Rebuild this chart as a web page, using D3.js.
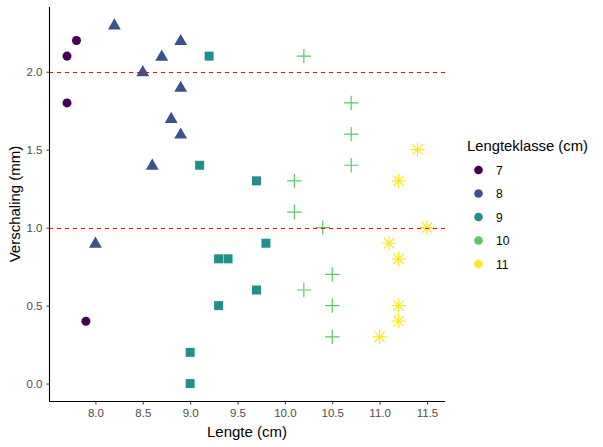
<!DOCTYPE html>
<html><head><meta charset="utf-8">
<script src="https://cdn.jsdelivr.net/npm/d3@7"></script>
<style>body{margin:0;background:#fff}svg{display:block}text{font-family:"Liberation Sans",Arial,sans-serif}</style>
</head><body><div id="chart"></div>
<script>
const classes = ["7","8","9","10","11"];
const classColors = ["#440154","#3B528B","#21908C","#5DC863","#FDE725"];
const class7 = [[7.7,2.1],[7.8,2.2],[7.7,1.8],[7.9,0.4]];
const class8 = [[8.2,2.3],[8.9,2.2],[8.7,2.1],[8.5,2.0],[8.9,1.9],[8.8,1.7],[8.9,1.6],[8.6,1.4],[8.0,0.9]];
const class9 = [[9.2,2.1],[9.1,1.4],[9.7,1.3],[9.3,0.8],[9.4,0.8],[9.8,0.9],[9.7,0.6],[9.3,0.5],[9.0,0.2],[9.0,0.0]];
const class10 = [[10.2,2.1],[10.7,1.8],[10.7,1.6],[10.7,1.4],[10.1,1.3],[10.1,1.1],[10.4,1.0],[10.5,0.7],[10.2,0.6],[10.5,0.5],[10.5,0.3]];
const class11 = [[11.4,1.5],[11.2,1.3],[11.5,1.0],[11.1,0.9],[11.2,0.8],[11.2,0.5],[11.2,0.4],[11.0,0.3]];
const hlines = [2.0, 1.0];
const xTicks = [8.0,8.5,9.0,9.5,10.0,10.5,11.0,11.5];
const yTicks = [0.0,0.5,1.0,1.5,2.0];

const W=603,H=447;
const svg=d3.select("#chart").append("svg").attr("width",W).attr("height",H);
const x=d3.scaleLinear().domain([7.51,11.69]).range([49,445]);
const y=d3.scaleLinear().domain([-0.115,2.415]).range([401.5,7]);

const groups=[class7,class8,class9,class10,class11];
const shapes=["circle","triangle","square","plus","asterisk"];

function drawGroup(data,shape,color){
  const g=svg.append("g");
  if(shape==="circle"||shape==="triangle"||shape==="square"){
    const t={circle:d3.symbolCircle,triangle:d3.symbolTriangle,square:d3.symbolSquare}[shape];
    const sz={circle:64,triangle:72,square:81}[shape];
    g.selectAll("path").data(data).join("path")
      .attr("transform",d=>`translate(${x(d[0])},${y(d[1])+(shape==="triangle"?0.8:0)})`)
      .attr("d",d3.symbol().type(t).size(sz)).attr("fill",color);
  } else {
    const r=7.2;
    const p=d3.path();
    if(shape==="plus"){
      p.moveTo(-r,0);p.lineTo(r,0);p.moveTo(0,-r);p.lineTo(0,r);
    } else {
      const s=r*0.72;
      p.moveTo(-r,0);p.lineTo(r,0);p.moveTo(0,-r);p.lineTo(0,r);
      p.moveTo(-s,-s);p.lineTo(s,s);p.moveTo(-s,s);p.lineTo(s,-s);
    }
    g.selectAll("path").data(data).join("path")
      .attr("transform",d=>`translate(${x(d[0])},${y(d[1])})`)
      .attr("d",p.toString()).attr("stroke",color).attr("stroke-width",1.2).attr("fill","none");
  }
}
groups.forEach((d,i)=>drawGroup(d,shapes[i],classColors[i]));

svg.selectAll("line.h").data(hlines).join("line").attr("class","h")
  .attr("x1",49).attr("x2",445).attr("y1",d=>Math.round(y(d))+0.5).attr("y2",d=>Math.round(y(d))+0.5)
  .attr("stroke","#FF0000").attr("stroke-width",1.3).attr("stroke-dasharray","4,4")
  .attr("shape-rendering","crispEdges");

const xa=svg.append("g").attr("transform","translate(0,401.5)")
  .call(d3.axisBottom(x).tickValues(xTicks).tickFormat(d3.format(".1f")).tickSize(3).tickPadding(4));
const ya=svg.append("g").attr("transform","translate(49.5,0)")
  .call(d3.axisLeft(y).tickValues(yTicks).tickFormat(d3.format(".1f")).tickSize(3).tickPadding(4));
[xa,ya].forEach(a=>{
  a.select(".domain").attr("stroke","#000").attr("stroke-width",1.1);
  a.selectAll(".tick line").attr("stroke","#333");
  a.selectAll(".tick text").attr("fill","#4D4D4D").style("font-size","11.5px").style("font-family",'"Liberation Sans",Arial,sans-serif');
});
xa.select(".domain").attr("d","M49,0H445");
ya.select(".domain").attr("d","M0,7V401.5");

svg.append("text").attr("x",247).attr("y",437).attr("text-anchor","middle").style("font-size","15px").text("Lengte (cm)");
svg.append("text").attr("transform","translate(20,204) rotate(-90)").attr("text-anchor","middle").style("font-size","15px").text("Verschaling (mm)");

const lg=svg.append("g");
lg.append("text").attr("x",467).attr("y",151).style("font-size","14.8px").text("Lengteklasse (cm)");
const lk=lg.selectAll("g.k").data(classes).join("g").attr("class","k")
  .attr("transform",(d,i)=>`translate(0,${170+i*23.5})`);
lk.append("circle").attr("cx",478.5).attr("cy",0).attr("r",4.3).attr("fill",(d,i)=>classColors[i]);
lk.append("text").attr("x",496).attr("y",4.5).style("font-size","12px").text(d=>d);
</script></body></html>
